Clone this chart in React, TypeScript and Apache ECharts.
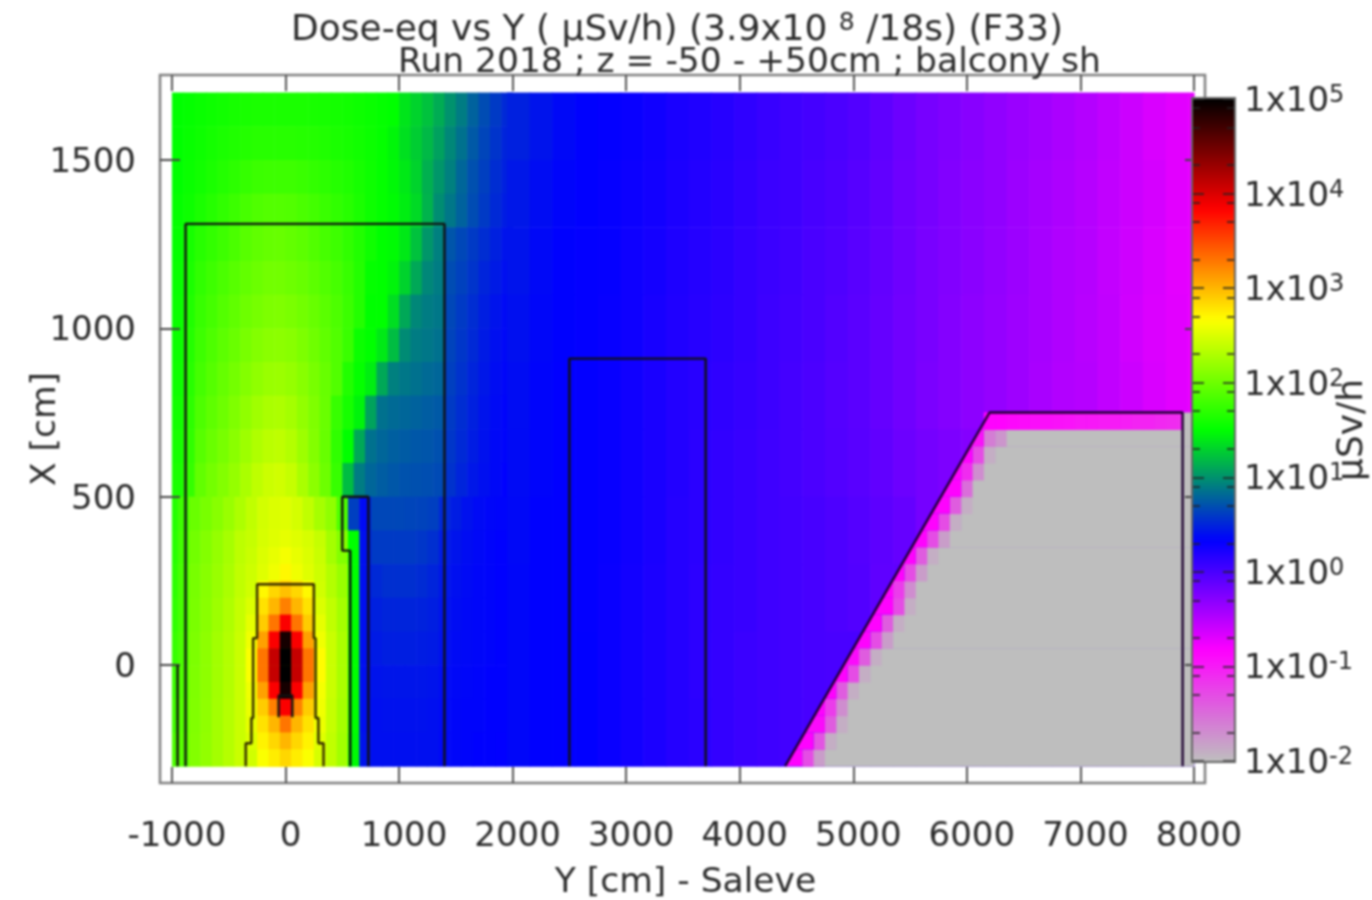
import React, { useEffect, useRef } from "react";
import * as echarts from "echarts";

// log10(dose). Top-down rows.
// Near field, y 1700..500 in 100 cm rows, x from -1000 in 100 cm columns
const nearTop = [
  [1.50,1.52,1.54,1.56,1.58,1.60,1.61,1.62,1.62,1.62,1.62,1.62,1.61,1.60,1.59,1.58,1.56,1.54,1.52,1.50,1.38,1.30,1.22,1.12,1.00,.90,.78,.68,.60,.52],
  [1.50,1.53,1.56,1.59,1.62,1.64,1.66,1.68,1.68,1.68,1.68,1.67,1.66,1.64,1.62,1.60,1.58,1.55,1.52,1.46,1.36,1.27,1.18,1.07,.95,.85,.74,.65,.57,.50],
  [1.50,1.54,1.58,1.62,1.66,1.70,1.74,1.77,1.78,1.78,1.78,1.76,1.73,1.70,1.67,1.64,1.60,1.56,1.52,1.47,1.40,1.30,1.14,1.02,.92,.80,.70,.62,.54,.48],
  [1.52,1.56,1.62,1.67,1.72,1.77,1.82,1.86,1.88,1.88,1.87,1.84,1.80,1.76,1.72,1.68,1.62,1.56,1.52,1.48,1.42,1.33,1.15,.98,.88,.78,.68,.60,.52,.46],
  [1.52,1.60,1.68,1.73,1.78,1.84,1.90,1.94,1.96,1.97,1.95,1.92,1.87,1.82,1.78,1.72,1.65,1.57,1.50,1.48,1.40,1.22,1.02,.92,.72,.66,.60,.54,.48,.42],
  [1.53,1.62,1.72,1.78,1.84,1.90,1.95,1.99,2.02,2.02,2.00,1.97,1.92,1.87,1.82,1.75,1.66,1.52,1.50,1.45,1.30,1.10,.95,.90,.68,.63,.57,.50,.45,.40],
  [1.54,1.64,1.75,1.81,1.88,1.94,2.00,2.04,2.07,2.08,2.06,2.02,1.97,1.91,1.85,1.77,1.66,1.50,1.50,1.35,1.10,.95,.90,.88,.66,.60,.54,.47,.42,.38],
  [1.55,1.66,1.78,1.85,1.92,1.98,2.05,2.10,2.13,2.14,2.12,2.07,2.01,1.94,1.87,1.76,1.55,1.50,1.40,1.20,.97,.90,.88,.85,.64,.58,.52,.45,.40,.37],
  [1.56,1.68,1.81,1.89,1.96,2.03,2.10,2.16,2.20,2.21,2.18,2.12,2.05,1.97,1.87,1.65,1.52,1.42,1.10,.92,.88,.85,.82,.80,.62,.56,.50,.44,.39,.36],
  [1.58,1.70,1.85,1.93,2.00,2.08,2.16,2.23,2.28,2.29,2.25,2.17,2.08,1.98,1.75,1.60,1.45,1.08,.85,.82,.80,.78,.76,.74,.60,.54,.48,.42,.38,.35],
  [1.60,1.72,1.90,1.98,2.05,2.13,2.22,2.30,2.35,2.37,2.32,2.22,2.10,1.97,1.72,1.50,1.10,.85,.80,.77,.75,.73,.72,.70,.58,.52,.46,.41,.37,.35],
  [1.62,1.74,1.95,2.03,2.10,2.18,2.28,2.37,2.43,2.45,2.40,2.28,2.14,2.00,1.75,1.20,.90,.80,.76,.73,.71,.70,.69,.67,.56,.50,.44,.40,.37,.34],
];
// Near field, y 500..-300 in 100 cm rows, x columns centred on -1000, -900, ...
const nearLow = [
  [1.66,1.78,1.98,2.05,2.12,2.20,2.29,2.38,2.46,2.50,2.52,2.47,2.38,2.26,2.16,1.85,.62,.38,.66,.66,.66,.65,.64,.62,.52,.46,.41,.38,.36,.35],
  [1.68,1.80,2.02,2.10,2.18,2.26,2.36,2.46,2.55,2.60,2.62,2.56,2.45,2.35,2.25,2.10,1.50,.40,.60,.60,.60,.60,.58,.55,.46,.42,.39,.37,.35,.34],
  [1.70,1.82,2.05,2.12,2.20,2.28,2.38,2.50,2.60,2.65,2.66,2.60,2.50,2.42,2.32,2.20,1.50,.40,.52,.55,.55,.55,.53,.50,.44,.40,.38,.36,.35,.34],
  [1.72,1.82,2.06,2.13,2.22,2.30,2.40,2.52,2.60,2.65,2.66,2.62,2.55,2.46,2.38,2.25,1.50,.40,.48,.50,.50,.50,.49,.47,.42,.39,.37,.36,.35,.34],
  [1.75,1.84,2.07,2.15,2.24,2.32,2.42,2.52,2.60,2.65,2.68,2.64,2.60,2.50,2.42,2.28,1.50,.40,.45,.47,.47,.47,.46,.45,.41,.38,.37,.36,.35,.34],
  [1.77,1.85,2.08,2.15,2.24,2.32,2.42,2.52,2.60,2.65,2.68,2.64,2.60,2.50,2.42,2.28,1.50,.40,.42,.43,.43,.43,.43,.42,.39,.37,.36,.35,.34,.34],
  [1.80,1.88,2.09,2.16,2.25,2.33,2.42,2.52,2.60,2.65,2.66,2.62,2.56,2.48,2.40,2.26,1.50,.40,.40,.41,.41,.41,.41,.40,.38,.36,.35,.35,.34,.34],
  [1.85,1.90,2.10,2.17,2.25,2.33,2.42,2.50,2.56,2.60,2.62,2.58,2.52,2.45,2.38,2.24,1.48,.42,.40,.40,.40,.40,.40,.40,.37,.36,.35,.34,.34,.33],
];
// Far field, y 1700..-300 in 200 cm rows, x from 1950 in 200 cm columns
const farField = [
  [.48,.42,.37,.34,.32,.29,.26,.22,.19,.16,.12,.08,.05,.02,-.01,-.04,-.10,-.16,-.21,-.25,-.29,-.33,-.37,-.41,-.45,-.49,-.54,-.60,-.66,-.70,-.72],
  [.44,.39,.35,.33,.31,.28,.25,.21,.18,.15,.11,.07,.05,.01,-.02,-.06,-.11,-.17,-.21,-.26,-.30,-.33,-.38,-.42,-.46,-.50,-.55,-.60,-.64,-.70,-.73],
  [.42,.37,.34,.32,.31,.27,.24,.20,.17,.14,.10,.07,.04,.00,-.03,-.07,-.12,-.17,-.22,-.26,-.30,-.34,-.38,-.43,-.47,-.50,-.56,-.61,-.66,-.71,-.73],
  [.40,.36,.34,.32,.30,.27,.23,.19,.16,.13,.10,.06,.03,.00,-.04,-.08,-.13,-.18,-.22,-.27,-.31,-.35,-.39,-.43,-.47,-.51,-.55,-.62,-.67,-.70,-.74],
  [.39,.35,.33,.32,.30,.26,.22,.18,.15,.12,.09,.06,.02,-.01,-.05,-.08,-.13,-.18,-.23,-.27,-.31,-.35,-.39,-.44,-.48,-.50,-.55,-.60,-.66,-.70,-.74],
  [.38,.35,.33,.32,.30,.26,.22,.18,.14,.11,.08,.05,.02,-.01,-.04,-.07,-.11,-.16,-.20,-.24,-.27,-.3,-.3,-.3,-.3,-.3,-.3,-.3,-.3,-.3,-.3],
  [.37,.34,.33,.32,.30,.26,.22,.17,.14,.11,.08,.05,.03,.01,-.02,-.05,-.09,-.13,-.2,-.2,-.2,-.2,-.2,-.2,-.2,-.2,-.2,-.2,-.2,-.2,-.2],
  [.36,.34,.33,.32,.29,.25,.21,.17,.13,.10,.08,.05,.03,.01,-.02,-.04,-.1,-.1,-.1,-.1,-.1,-.1,-.1,-.1,-.1,-.1,-.1,-.1,-.1,-.1,-.1],
  [.36,.34,.33,.33,.29,.25,.21,.17,.13,.10,.07,.05,.03,.01,0,0,0,0,0,0,0,0,0,0,0,0,0,0,0,0,0],
  [.36,.34,.33,.33,.29,.25,.21,.17,.14,.10,.07,.05,.03,.01,0,0,0,0,0,0,0,0,0,0,0,0,0,0,0,0,0],
];
// Source region, y 400..-300 in 50 cm rows, x columns centred on -300 ... 300
const hotSpot = [
  [2.40,2.48,2.52,2.55,2.52,2.48,2.40],
  [2.42,2.50,2.56,2.62,2.56,2.50,2.42],
  [2.44,2.52,2.60,2.70,2.60,2.52,2.44],
  [2.45,2.70,2.85,2.95,2.85,2.70,2.45],
  [2.50,2.80,3.00,3.25,3.00,2.80,2.50],
  [2.55,2.90,3.30,3.85,3.30,2.90,2.55],
  [2.60,3.10,3.85,4.90,3.85,3.10,2.60],
  [2.65,3.30,4.10,5.00,4.10,3.30,2.68],
  [2.65,3.30,4.10,5.00,4.10,3.30,2.68],
  [2.60,3.10,3.85,4.90,3.85,3.10,2.62],
  [2.58,2.90,3.25,3.85,3.25,2.90,2.60],
  [2.55,2.80,3.00,3.30,3.00,2.80,2.58],
  [2.50,2.72,2.85,3.00,2.85,2.72,2.52],
  [2.45,2.65,2.75,2.85,2.75,2.65,2.48],
];
// Hill: 50 cm rows from y=-300 up; right end of the first lit cell of each row, and its cells
const hillStarts = [4550,4650,4750,4750,4850,4950,5050,5150,5250,5350,5350,5450,5550,5650,5750,5850,5950,5950,6050,6150];
const hillEdge = [
  [-.85,-1.3,-1.8],[-.85,-1.35,-1.9],[-.9,-1.4,-1.9],[-.85,-1.2,-1.7],[-.85,-1.4,-1.9],
  [-.85,-1.3,-1.9],[-.9,-1.4,-1.9],[-.85,-1.3,-1.8],[-.85,-1.4,-1.9],[-.85,-1.3,-1.9],
  [-.85,-1.2,-1.7],[-.85,-1.3,-1.8],[-.85,-1.4,-1.9],[-.85,-1.3,-1.8],[-.85,-1.3,-1.9],
  [-.85,-1.4,-1.9],[-.85,-1.5,-2],[-.85,-1.1,-1.7],[-.85,-1.3,-1.9],[-.95,-1.6,-1.75],
];
const hillTopStart = 6150;
const hillTop = [-.85,-.85,-.88,-.9,-.92,-.92,-.94,-.95,-.98,-.98,-1,-1,-1.02,-1.05,-1.05,-1.08,-1.1,-1.12];
const floorValue = -2;

// Shield outlines, [Y, X] in cm
const outerWallY = [-880,-880,1400,1400];
const outerWallX = [-300,1310,1310,-300];
const leftStubY = [-950,-950];
const leftStubX = [0,-300];
const pitY = [-350,-350,-300,-300,-285,-285,-250,-250,250,250,265,265,290,290,335,335];
const pitX = [-300,-232,-232,-157,-157,80,80,240,240,80,80,-157,-157,-232,-232,-300];
const coreY = [-60,-60,60,60];
const coreX = [-155,-90,-90,-155];
const sideY = [570,570,500,500,730,730];
const sideX = [-300,340,340,500,500,-300];
const midY = [2500,2500,3700,3700];
const midX = [-300,910,910,-300];
const hillLineY = [4400,6200,7900,7900];
const hillLineX = [-300,750,750,-300];

const xTicks = [-1000,0,1000,2000,3000,4000,5000,6000,7000,8000];
const yTicks = [0,500,1000,1500];
const decades = [-2,-1,0,1,2,3,4,5];
const minorSteps = [0.301,0.699,0.903];
const paletteStops = ["#bebebe","#ff00ff","#0000ff","#00ff00","#ffff00","#ff0000","#000000"];

const INK = "#2b2b2b";
const FRAME = "#808080";
const FONT = "DejaVu Sans";

const lineAt = (y: number) => hillLineY[0] + (y - hillLineX[0]) * (hillLineY[1] - hillLineY[0]) / (hillLineX[1] - hillLineX[0]);

function buildCells() {
  const cells: number[][] = [];
  const add = (x0: number, x1: number, y0: number, y1: number, v: number) =>
    cells.push([Math.max(x0, -1000), Math.min(x1, 8000), y0, y1, v]);
  nearTop.forEach((row, r) => row.forEach((v, c) => add(-1000 + c * 100, -900 + c * 100, 1600 - r * 100, 1700 - r * 100, v)));
  nearLow.forEach((row, r) => row.forEach((v, c) => add(-1050 + c * 100, -950 + c * 100, 400 - r * 100, 500 - r * 100, v)));
  farField.forEach((row, r) => row.forEach((v, c) => add(1950 + c * 200, 2150 + c * 200, 1500 - r * 200, 1700 - r * 200, v)));
  hotSpot.forEach((row, r) => row.forEach((v, c) => add(-350 + c * 100, -250 + c * 100, 350 - r * 50, 400 - r * 50, v)));
  hillStarts.forEach((s, r) => {
    const y0 = -300 + r * 50;
    hillEdge[r].slice(1).forEach((v, c) => add(s + c * 100, s + (c + 1) * 100, y0, y0 + 50, v));
    add(s + 200, 8000, y0, y0 + 50, floorValue);
  });
  hillTop.forEach((v, c) => add(hillTopStart + c * 100, Math.min(hillTopStart + (c + 1) * 100, 7900), 700, 750, v));
  add(7900, 8000, 700, 750, floorValue);
  return cells;
}

// first lit cell of each row: left side follows the hill's slanted edge
function buildSlant() {
  const rows = hillStarts.map((s, r) => [s, -300 + r * 50, hillEdge[r][0]]);
  rows.push([hillTopStart, 700, hillTop[0]]);
  return rows.map(([s, y0, v]) => [lineAt(y0), lineAt(y0 + 50), y0, y0 + 50, v, s]);
}

const zip = (a: number[], b: number[]) => a.map((v, i) => [v, b[i]]);
const outline = (xs: number[], ys: number[], color = "#111", width = 2.4) => ({
  type: "line", data: zip(xs, ys), showSymbol: false, symbol: "none", silent: true, z: 3,
  lineStyle: { color, width }, xAxisIndex: 0, yAxisIndex: 0,
});

export default function App() {
  const ref = useRef<HTMLDivElement>(null);
  useEffect(() => {
    const chart = echarts.init(ref.current!, null, { renderer: "svg" });
    const minorTicks = decades.slice(0, -1).flatMap((d) => minorSteps.map((m) => d + m));
    const barAxis = (position: string, customValues: number[], length: number, labels: boolean, extra = {}) => ({
      type: "value", gridIndex: 1, position, min: -2, max: 5, z: 6,
      axisLine: { show: false, onZero: false }, splitLine: { show: false },
      axisTick: { show: true, inside: true, length, customValues, lineStyle: { color: "#222", width: 1.5 } },
      axisLabel: labels ? {
        show: true, customValues: decades, margin: 9, color: INK, fontFamily: FONT, fontSize: 34, inside: false,
        formatter: (v: number) => `1x10{s|${v}}`,
        rich: { s: { fontSize: 24, fontFamily: FONT, color: INK, verticalAlign: "top", lineHeight: 26 } },
      } : { show: false },
      ...extra,
    });
    const plain = (v: number) => String(v);
    chart.setOption({
      animation: false,
      backgroundColor: "#ffffff",
      title: [
        {
          text: "Dose-eq vs Y ( µSv/h) (3.9x10 {s|8} /18s) (F33)", left: 286, top: 4,
          textStyle: { color: INK, fontFamily: FONT, fontSize: 36, fontWeight: "normal",
            rich: { s: { fontSize: 25, fontFamily: FONT, color: INK, verticalAlign: "top", lineHeight: 26 } } },
        },
        {
          text: "Run 2018 ; z = -50 - +50cm ; balcony sh", left: 393, top: 37,
          textStyle: { color: INK, fontFamily: FONT, fontSize: 34.5, fontWeight: "normal" },
        },
      ],
      grid: [
        { left: 160, top: 75, width: 1045, height: 708, show: true, borderColor: FRAME, borderWidth: 2.5, backgroundColor: "#fff", outerBoundsMode: "none" },
        { left: 1192, top: 99, width: 43, height: 662, outerBoundsMode: "none" },
      ],
      xAxis: [
        {
          type: "value", gridIndex: 0, min: -1105, max: 8097, position: "bottom", z: 3,
          name: "Y [cm] - Saleve", nameLocation: "middle", nameGap: 79, nameMoveOverlap: false,
          nameTextStyle: { color: INK, fontFamily: FONT, fontSize: 34.5, padding: [0, 0, 0, 6] },
          axisLine: { show: false, onZero: false }, splitLine: { show: false },
          axisTick: { show: true, inside: true, length: 16, customValues: xTicks, lineStyle: { color: "#555", width: 2 } },
          axisLabel: { show: true, customValues: xTicks, margin: 34, color: INK, fontFamily: FONT, fontSize: 34, padding: [0, 0, 0, 10], formatter: plain },
        },
        {
          type: "value", gridIndex: 0, min: -1105, max: 8097, position: "top", z: 3,
          axisLine: { show: false, onZero: false }, splitLine: { show: false },
          axisTick: { show: true, inside: true, length: 16, customValues: xTicks, lineStyle: { color: "#555", width: 2 } },
          axisLabel: { show: false },
        },
        { type: "value", gridIndex: 1, show: false, min: 0, max: 1 },
      ],
      yAxis: [
        {
          type: "value", gridIndex: 0, min: -350, max: 1752, position: "left", z: 3,
          name: "X [cm]", nameLocation: "middle", nameGap: 100, nameMoveOverlap: false,
          nameTextStyle: { color: INK, fontFamily: FONT, fontSize: 34.5 },
          axisLine: { show: false, onZero: false }, splitLine: { show: false },
          axisTick: { show: true, inside: true, length: 20, customValues: yTicks, lineStyle: { color: "#444", width: 2 } },
          axisLabel: { show: true, customValues: yTicks, margin: 24, color: INK, fontFamily: FONT, fontSize: 34, formatter: plain },
        },
        {
          type: "value", gridIndex: 0, min: -350, max: 1752, position: "right", z: 3,
          axisLine: { show: false, onZero: false }, splitLine: { show: false },
          axisTick: { show: true, inside: true, length: 20, customValues: yTicks, lineStyle: { color: "#444", width: 2 } },
          axisLabel: { show: false },
        },
        barAxis("right", decades, 12, true, {
          name: "µSv/h", nameLocation: "middle", nameGap: 96, nameRotate: 90, nameMoveOverlap: false,
          nameTextStyle: { color: INK, fontFamily: FONT, fontSize: 36 },
        }),
        barAxis("right", minorTicks, 8, false),
        barAxis("left", decades, 12, false),
        barAxis("left", minorTicks, 8, false),
      ],
      visualMap: {
        type: "continuous", min: -2, max: 5, dimension: 4, seriesIndex: [0, 1], show: true, calculable: false,
        hoverLink: false, left: 1192, top: 99, itemWidth: 43, itemHeight: 662, padding: 0, text: ["", ""],
        showLabel: false, inRange: { color: paletteStops }, textStyle: { fontSize: 1, color: "#fff" }, z: 5,
      },
      graphic: [
        { type: "rect", z: 7, shape: { x: 1192, y: 98, width: 43, height: 664 }, style: { fill: "none", stroke: "#666", lineWidth: 2 } },
      ],
      series: [
        {
          type: "custom", silent: true, z: 2, xAxisIndex: 0, yAxisIndex: 0, data: buildCells(), clip: false,
          dimensions: ["x0", "x1", "y0", "y1", "v"], encode: { x: [0, 1], y: [2, 3] },
          renderItem: (_p: any, api: any) => {
            const a = api.coord([api.value(0), api.value(3)]);
            const b = api.coord([api.value(1), api.value(2)]);
            return { type: "rect", shape: { x: a[0], y: a[1], width: b[0] - a[0] + 0.6, height: b[1] - a[1] + 0.6 }, style: { fill: api.visual("color") } };
          },
        },
        {
          type: "custom", silent: true, z: 2, xAxisIndex: 0, yAxisIndex: 0, data: buildSlant(), clip: false,
          dimensions: ["xb", "xt", "y0", "y1", "v", "xr"], encode: { x: [0, 5], y: [2, 3] },
          renderItem: (_p: any, api: any) => {
            const pts = [
              api.coord([api.value(0), api.value(2)]),
              api.coord([api.value(1), api.value(3)]),
              api.coord([api.value(5), api.value(3)]),
              api.coord([api.value(5), api.value(2)]),
            ];
            return { type: "polygon", shape: { points: pts }, style: { fill: api.visual("color") } };
          },
        },
        outline(outerWallY, outerWallX),
        outline(leftStubY, leftStubX),
        outline(pitY, pitX, "#332a00"),
        outline(coreY, coreX),
        outline(sideY, sideX),
        outline(midY, midX),
        outline(hillLineY, hillLineX, "#1c0030"),
      ],
    });
    return () => chart.dispose();
  }, []);
  return <div ref={ref} style={{ position: "fixed", left: 0, top: 0, width: 1372, height: 900, filter: "blur(0.8px)" }} />;
}
